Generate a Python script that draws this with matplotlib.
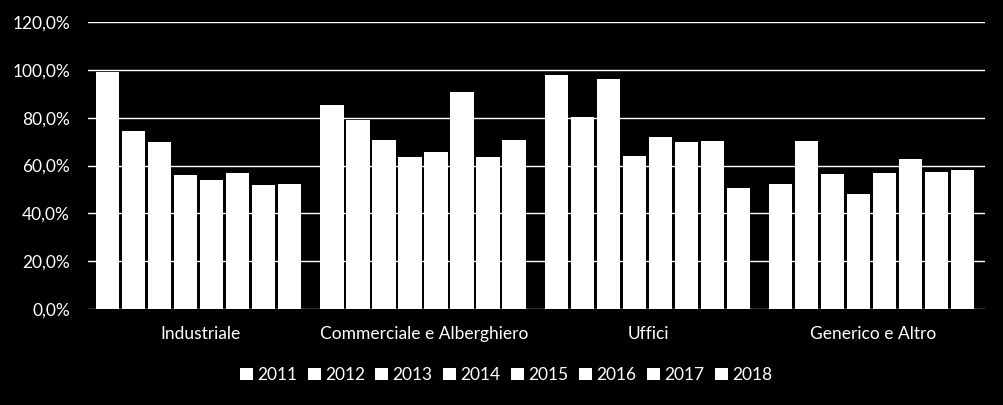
import numpy as np
import matplotlib.pyplot as plt
from matplotlib.ticker import FuncFormatter

plt.rcParams['font.family'] = ['Lato', 'DejaVu Sans']

categories = ['Industriale', 'Commerciale e Alberghiero', 'Uffici', 'Generico e Altro']
years = ['2011', '2012', '2013', '2014', '2015', '2016', '2017', '2018']

# values per year, one per category (percent)
v2011 = [99.2, 85.4, 97.9, 52.3]
v2012 = [74.3, 79.1, 80.3, 70.3]
v2013 = [69.9, 70.7, 96.2, 56.5]
v2014 = [56.1, 63.6, 64.0, 48.1]
v2015 = [54.0, 65.7, 72.0, 56.9]
v2016 = [56.9, 90.8, 70.0, 62.8]
v2017 = [51.9, 63.6, 70.3, 57.3]
v2018 = [52.3, 70.7, 50.6, 58.2]
series = [v2011, v2012, v2013, v2014, v2015, v2016, v2017, v2018]

fig = plt.figure(figsize=(10.04, 4.05), dpi=100, facecolor='black')
ax = fig.add_axes([88 / 1004, 1 - 309 / 405, 897 / 1004, 287 / 405])
ax.set_facecolor('black')

x = np.arange(len(categories))
pitch = 0.116
width = 0.104
for i, (yr, vals) in enumerate(zip(years, series)):
    off = (i - 3.5) * pitch - 0.006
    ax.bar(x + off, vals, width, color='white', label=yr, zorder=3)

ax.set_xlim(-0.5, 3.5)
ax.set_ylim(0, 120)
ax.set_yticks(np.arange(0, 121, 20))
ax.yaxis.set_major_formatter(FuncFormatter(lambda v, p: f'{v:.1f}%'.replace('.', ',')))
ax.grid(axis='y', color='white', linewidth=1, zorder=0)
for s in ax.spines.values():
    s.set_visible(False)
ax.tick_params(axis='both', length=0, colors='white', labelsize=12.5)
ax.tick_params(axis='y', pad=13)
ax.tick_params(axis='x', pad=12)
ax.set_xticks(x)
ax.set_xticklabels(categories)

leg = fig.legend(loc='center', bbox_to_anchor=(506 / 1004, 1 - 375 / 405), ncol=8,
                 frameon=False, fontsize=12.5, handlelength=0.75, handleheight=0.75,
                 handletextpad=0.25, columnspacing=0.6)
for t in leg.get_texts():
    t.set_color('white')

fig.savefig('out.png', facecolor='black')
